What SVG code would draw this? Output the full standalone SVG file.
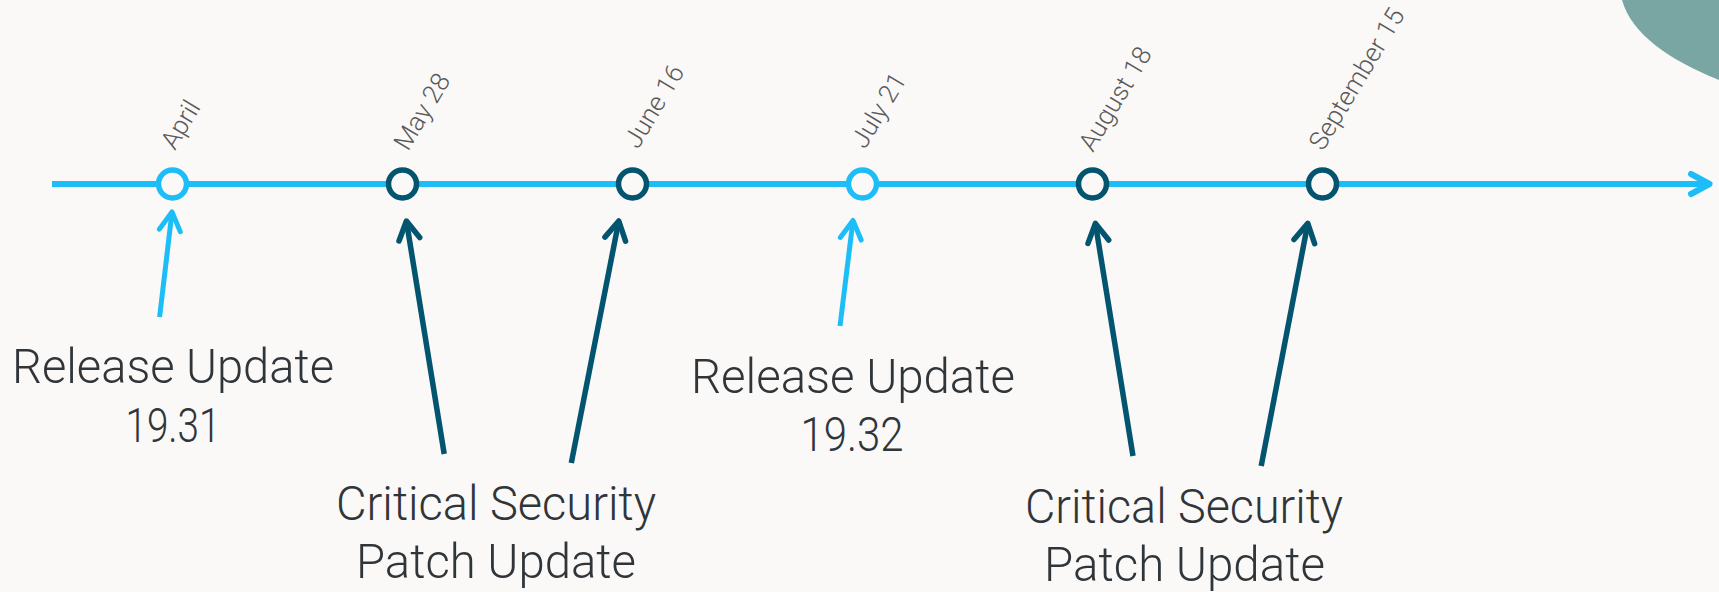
<svg xmlns="http://www.w3.org/2000/svg" width="1719" height="592" viewBox="0 0 1719 592">
  <style>
    .bg { fill: #faf9f7; }
    .blob { fill: #79a6a2; }
    .axis { stroke: #1dbdf8; stroke-width: 6; fill: none; }
    .dot-light { fill: #faf9f7; stroke: #1dbdf8; stroke-width: 5.5; }
    .dot-dark { fill: #faf9f7; stroke: #03546f; stroke-width: 5.5; }
    .ptr-light { stroke: #1dbdf8; stroke-width: 5; fill: none; }
    .ptr-dark { stroke: #03546f; stroke-width: 5.5; fill: none; }
    .date { font-family: Roboto, "Liberation Sans", sans-serif; font-weight: 300; font-size: 26px; fill: #5a5a5a; }
    .label { font-family: Roboto, "Liberation Sans", sans-serif; font-weight: 300; font-size: 49px; fill: #30353a; text-anchor: middle; }
  </style>
  <defs>
    <marker id="chev-light" markerUnits="userSpaceOnUse" orient="auto" refX="0" refY="0" overflow="visible" markerWidth="30" markerHeight="30">
      <path d="M-18.5,-10.5 L0,0 L-18.5,10.5" fill="none" stroke="#1dbdf8" stroke-width="5" stroke-linecap="round" stroke-linejoin="round"/>
    </marker>
    <marker id="chev-axis" markerUnits="userSpaceOnUse" orient="auto" refX="0" refY="0" overflow="visible" markerWidth="30" markerHeight="30">
      <path d="M-18.5,-10 L0,0 L-18.5,10" fill="none" stroke="#1dbdf8" stroke-width="6" stroke-linecap="round" stroke-linejoin="round"/>
    </marker>
    <marker id="chev-dark" markerUnits="userSpaceOnUse" orient="auto" refX="0" refY="0" overflow="visible" markerWidth="30" markerHeight="30">
      <path d="M-18.5,-10.5 L0,0 L-18.5,10.5" fill="none" stroke="#03546f" stroke-width="5.5" stroke-linecap="round" stroke-linejoin="round"/>
    </marker>
  </defs>

  <rect class="bg" x="0" y="0" width="1719" height="592"/>
  <path class="blob" d="M1622,0 C1632,35 1670,60 1719,80 L1719,0 Z"/>

  <g id="connectors">
    <line class="axis" x1="52" y1="184" x2="1709.5" y2="184" marker-end="url(#chev-axis)"/>
    <line class="ptr-light" x1="159.6" y1="317" x2="172" y2="212" marker-end="url(#chev-light)"/>
    <line class="ptr-dark" x1="444.2" y1="454" x2="406.4" y2="221" marker-end="url(#chev-dark)"/>
    <line class="ptr-dark" x1="571.3" y1="463" x2="618.8" y2="221" marker-end="url(#chev-dark)"/>
    <line class="ptr-light" x1="840" y1="326" x2="853" y2="220.4" marker-end="url(#chev-light)"/>
    <line class="ptr-dark" x1="1133" y1="456" x2="1095.4" y2="223.4" marker-end="url(#chev-dark)"/>
    <line class="ptr-dark" x1="1261.2" y1="466" x2="1307.8" y2="223.4" marker-end="url(#chev-dark)"/>
  </g>

  <g id="node-april">
    <circle class="dot-light" cx="172.5" cy="184" r="14"/>
    <text class="date" transform="translate(175,151) rotate(-59)">April</text>
  </g>
  <g id="node-may28">
    <circle class="dot-dark" cx="402.5" cy="184" r="14"/>
    <text class="date" transform="translate(408,152) rotate(-59)">May 28</text>
  </g>
  <g id="node-june16">
    <circle class="dot-dark" cx="632.5" cy="184" r="14"/>
    <text class="date" transform="translate(638,150) rotate(-59)">June 16</text>
  </g>
  <g id="node-july21">
    <circle class="dot-light" cx="862.5" cy="184" r="14"/>
    <text class="date" transform="translate(865,150) rotate(-59)">July 21</text>
  </g>
  <g id="node-august18">
    <circle class="dot-dark" cx="1092.5" cy="184" r="14"/>
    <text class="date" transform="translate(1093,153) rotate(-59)">August 18</text>
  </g>
  <g id="node-september15">
    <circle class="dot-dark" cx="1322.5" cy="184" r="14"/>
    <text class="date" transform="translate(1323,152) rotate(-59)">September 15</text>
  </g>

  <g id="label-ru-1931">
    <text class="label" x="173" y="383" textLength="322" lengthAdjust="spacingAndGlyphs">Release Update</text>
    <text class="label" x="173" y="442" textLength="95" lengthAdjust="spacingAndGlyphs">19.31</text>
  </g>
  <g id="label-cspu-1">
    <text class="label" x="496" y="520" textLength="320" lengthAdjust="spacingAndGlyphs">Critical Security</text>
    <text class="label" x="496" y="578" textLength="280" lengthAdjust="spacingAndGlyphs">Patch Update</text>
  </g>
  <g id="label-ru-1932">
    <text class="label" x="853" y="393" textLength="324" lengthAdjust="spacingAndGlyphs">Release Update</text>
    <text class="label" x="852" y="451" textLength="103" lengthAdjust="spacingAndGlyphs">19.32</text>
  </g>
  <g id="label-cspu-2">
    <text class="label" x="1184" y="523" textLength="318" lengthAdjust="spacingAndGlyphs">Critical Security</text>
    <text class="label" x="1184.5" y="581" textLength="281" lengthAdjust="spacingAndGlyphs">Patch Update</text>
  </g>
</svg>
